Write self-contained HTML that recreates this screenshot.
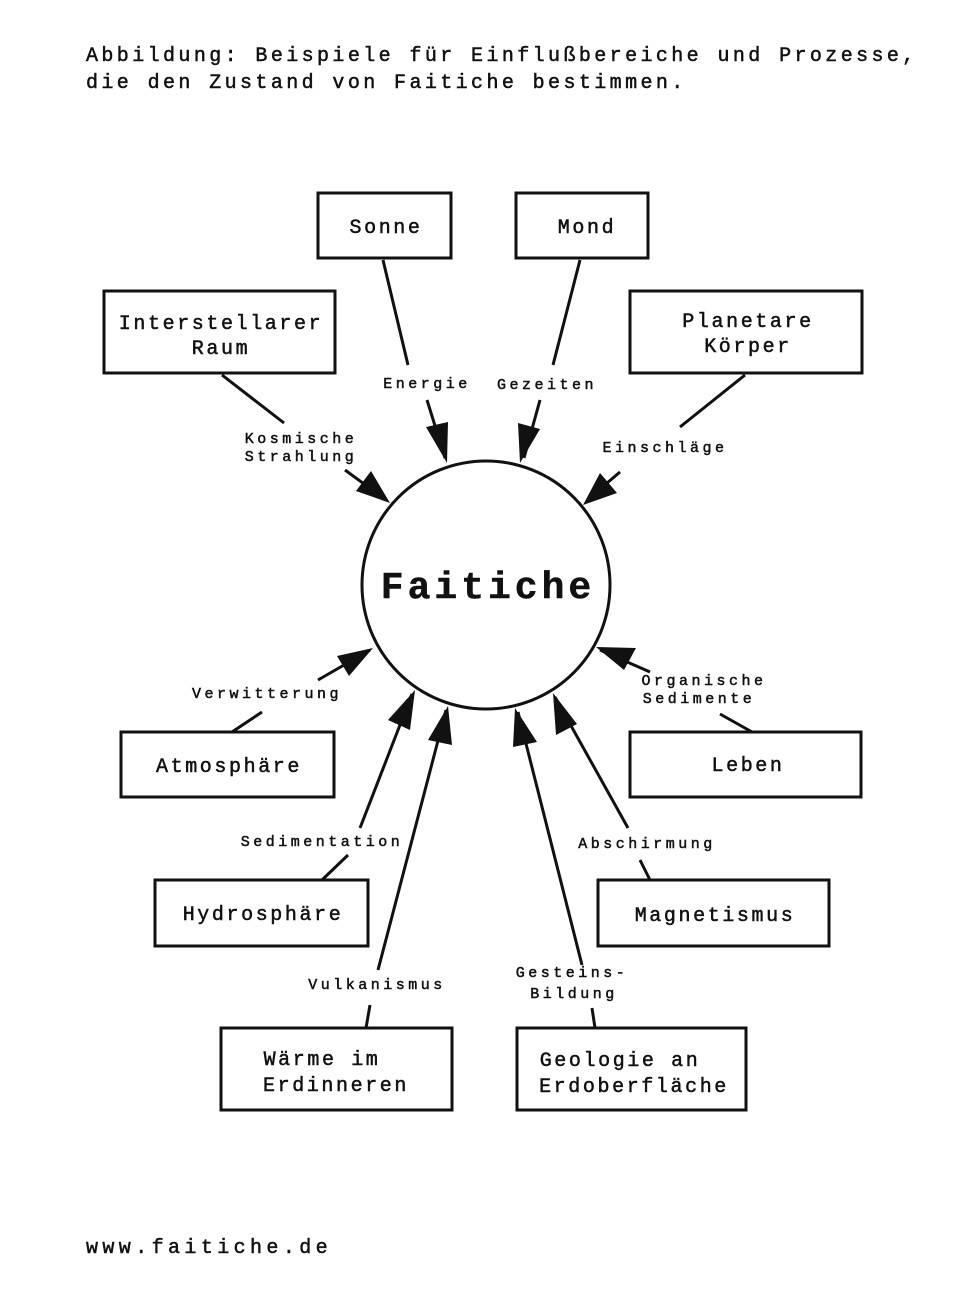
<!DOCTYPE html>
<html><head><meta charset="utf-8"><style>
html,body{margin:0;padding:0;background:#fff}
svg{display:block}
text{font-family:"Liberation Mono",monospace;fill:#111;stroke:#111;stroke-width:0.5}
</style></head><body>
<svg width="979" height="1306" viewBox="0 0 979 1306" xmlns="http://www.w3.org/2000/svg">
<text x="86" y="61" font-size="20" letter-spacing="3.4">Abbildung: Beispiele für Einflußbereiche und Prozesse,</text>
<text x="86" y="88" font-size="20" letter-spacing="3.4">die den Zustand von Faitiche bestimmen.</text>
<text x="86" y="1253" font-size="20" letter-spacing="4.4">www.faitiche.de</text>

<g fill="none" stroke="#111" stroke-width="3">
<rect x="318" y="193" width="133" height="65"/>
<rect x="516" y="193" width="132" height="65"/>
<rect x="104" y="291" width="231" height="82"/>
<rect x="630" y="291" width="232" height="82"/>
<rect x="121" y="732" width="213" height="65"/>
<rect x="630" y="732" width="231" height="65"/>
<rect x="155" y="880" width="213" height="66"/>
<rect x="598" y="880" width="231" height="66"/>
<rect x="221" y="1028" width="231" height="82"/>
<rect x="517" y="1028" width="229" height="82"/>
<circle cx="486" cy="585" r="124"/>
<path d="M383 260 L408 365 M427 400 L445 458"/>
<path d="M580 260 L553 365 M540 400 L524 458"/>
<path d="M222 375 L284 423 M345 470 L386 500"/>
<path d="M745 375 L680 427 M620 472 L587 500"/>
<path d="M232 732 L262 712 M318 680 L370 650"/>
<path d="M752 732 L720 714 M650 672 L600 650"/>
<path d="M322 880 L348 855 M360 828 L412 694"/>
<path d="M650 880 L640 860 M628 828 L555 697"/>
<path d="M366 1028 L370 1005 M378 970 L446 710"/>
<path d="M595 1028 L592 1008 M582 965 L518 712"/>
</g>
<g fill="#111">
<polygon points="447,463 426,427 448,422"/>
<polygon points="520,463 518,423 540,429"/>
<polygon points="390,503 356,491 371,471"/>
<polygon points="583,505 600,473 617,493"/>
<polygon points="373,648 349,676 337,656"/>
<polygon points="596,647 636,648 624,670"/>
<polygon points="415,690 410,730 388,720"/>
<polygon points="553,693 577,724 556,735"/>
<polygon points="448,706 452,745 428,740"/>
<polygon points="515,708 537,742 513,747"/>
</g>
<g font-size="20" text-anchor="middle" letter-spacing="2.6">
<text x="386" y="233">Sonne</text>
<text x="587" y="233">Mond</text>
<text x="221" y="329">Interstellarer</text>
<text x="221" y="354">Raum</text>
<text x="748" y="327">Planetare</text>
<text x="748" y="352">Körper</text>
<text x="229" y="772">Atmosphäre</text>
<text x="748" y="771">Leben</text>
<text x="263" y="920">Hydrosphäre</text>
<text x="715" y="921">Magnetismus</text>
<text x="322" y="1065">Wärme im</text>
<text x="336" y="1091">Erdinneren</text>
<text x="620" y="1066">Geologie an</text>
<text x="634" y="1092">Erdoberfläche</text>
</g>
<text x="488" y="598" font-size="38" font-weight="bold" text-anchor="middle" letter-spacing="4">Faitiche</text>
<g font-size="15" text-anchor="middle" letter-spacing="3.5">
<text x="427" y="388">Energie</text>
<text x="547" y="389">Gezeiten</text>
<text x="301" y="443">Kosmische</text>
<text x="301" y="461">Strahlung</text>
<text x="665" y="452">Einschläge</text>
<text x="267" y="698">Verwitterung</text>
<text x="704" y="685">Organische</text>
<text x="699" y="703">Sedimente</text>
<text x="322" y="846">Sedimentation</text>
<text x="647" y="848">Abschirmung</text>
<text x="377" y="989">Vulkanismus</text>
<text x="572" y="977">Gesteins-</text>
<text x="574" y="998">Bildung</text>
</g>
</svg>
</body></html>
